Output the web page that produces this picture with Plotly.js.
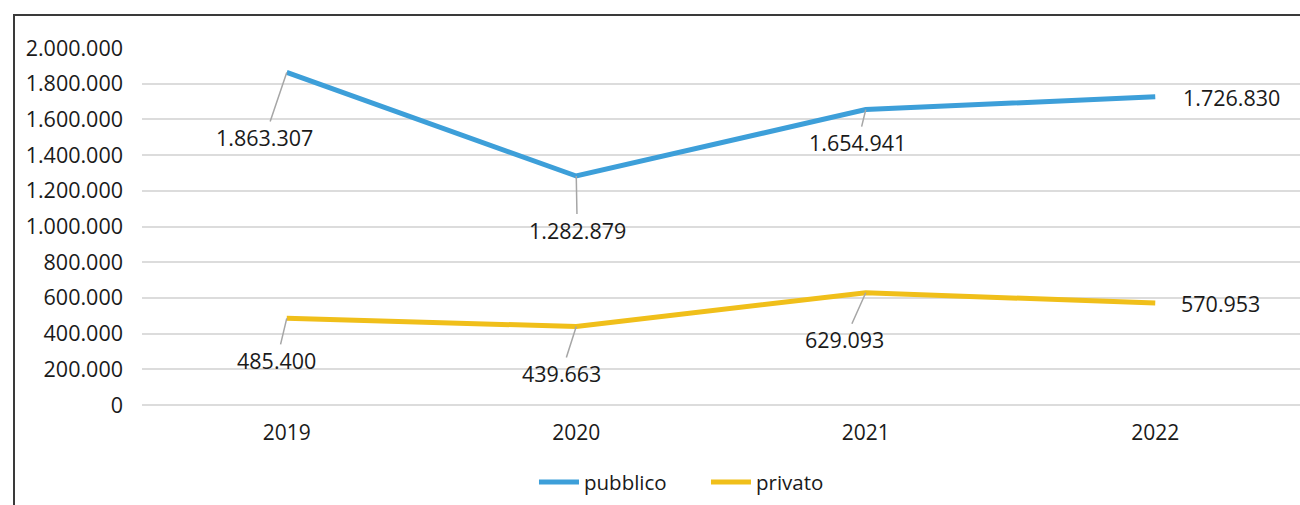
<!DOCTYPE html>
<html>
<head>
<meta charset="utf-8">
<script src="https://cdn.plot.ly/plotly-3.0.1.min.js"></script>
<style>
  html, body { margin: 0; padding: 0; background: #ffffff; }
  #frame { position: absolute; left: 13px; top: 14px; width: 1400px; height: 600px;
           border-top: 2px solid #3a3a3a; border-left: 2px solid #3a3a3a; }
  #chart { position: absolute; left: 0; top: 0; width: 1300px; height: 505px; }
</style>
</head>
<body>
<div id="frame"></div>
<div id="chart"></div>
<script>
const years = ['2019', '2020', '2021', '2022'];
const pubblico = [1863307, 1282879, 1654941, 1726830];
const privato = [485400, 439663, 629093, 570953];
const seriesNames = ['pubblico', 'privato'];
const yTickVals = [0, 200000, 400000, 600000, 800000, 1000000, 1200000, 1400000, 1600000, 1800000, 2000000];
const yTickText = ['0', '200.000', '400.000', '600.000', '800.000', '1.000.000', '1.200.000', '1.400.000', '1.600.000', '1.800.000', '2.000.000'];

function fmt(v) { return v.toString().replace(/\B(?=(\d{3})+(?!\d))/g, '.'); }

// label offsets (pixels) and whether a leader line is drawn
const pubOffsets = [[-22, 65, true], [1, 54, true], [-8, 33, true], [76, 1, false]];
const privOffsets = [[-10, 42, true], [-15, 47, true], [-21, 47, true], [65, 0, false]];

const FONT = 'Open Sans, sans-serif';
const annotations = [];
function addLabels(vals, offs) {
  vals.forEach((v, i) => {
    annotations.push({
      x: i, y: v, xref: 'x', yref: 'y',
      text: fmt(v), showarrow: true, arrowhead: 0,
      arrowwidth: 1.5,
      arrowcolor: offs[i][2] ? '#a6a6a6' : 'rgba(0,0,0,0)',
      ax: offs[i][0], ay: offs[i][1],
      font: { family: FONT, size: 21.5, color: '#1a1a1a' }
    });
  });
}
addLabels(pubblico, pubOffsets);
addLabels(privato, privOffsets);

const traces = [
  { x: years, y: pubblico, name: seriesNames[0], type: 'scatter', mode: 'lines',
    line: { color: '#3d9fd9', width: 5 }, hoverinfo: 'skip' },
  { x: years, y: privato, name: seriesNames[1], type: 'scatter', mode: 'lines',
    line: { color: '#f0bf1a', width: 5 }, hoverinfo: 'skip' }
];

const layout = {
  width: 1300, height: 505,
  margin: { l: 142, r: 0, t: 48, b: 100 },
  paper_bgcolor: 'rgba(0,0,0,0)',
  plot_bgcolor: 'rgba(0,0,0,0)',
  showlegend: true,
  legend: { orientation: 'h', x: 0.3385, xanchor: 'left', y: -0.216, yanchor: 'middle',
            entrywidth: 117, entrywidthmode: 'pixels',
            font: { family: FONT, size: 20.5, color: '#1a1a1a' }, itemwidth: 40 },
  xaxis: { type: 'category', range: [-0.5, 3.5], showgrid: false, zeroline: false,
           showline: false, ticks: '', ticklabelstandoff: 13,
           tickfont: { family: FONT, size: 21, color: '#1a1a1a' } },
  yaxis: { range: [0, 2000000], tickvals: yTickVals, ticktext: yTickText,
           showgrid: true, gridcolor: '#dcdcdc', gridwidth: 2,
           zeroline: true, zerolinecolor: '#dcdcdc', zerolinewidth: 2,
           showline: false, ticks: '', ticklabelstandoff: 18,
           tickfont: { family: FONT, size: 21.5, color: '#1a1a1a' } },
  annotations: annotations
};

Plotly.newPlot('chart', traces, layout, { staticPlot: true, displayModeBar: false });
</script>
</body>
</html>
